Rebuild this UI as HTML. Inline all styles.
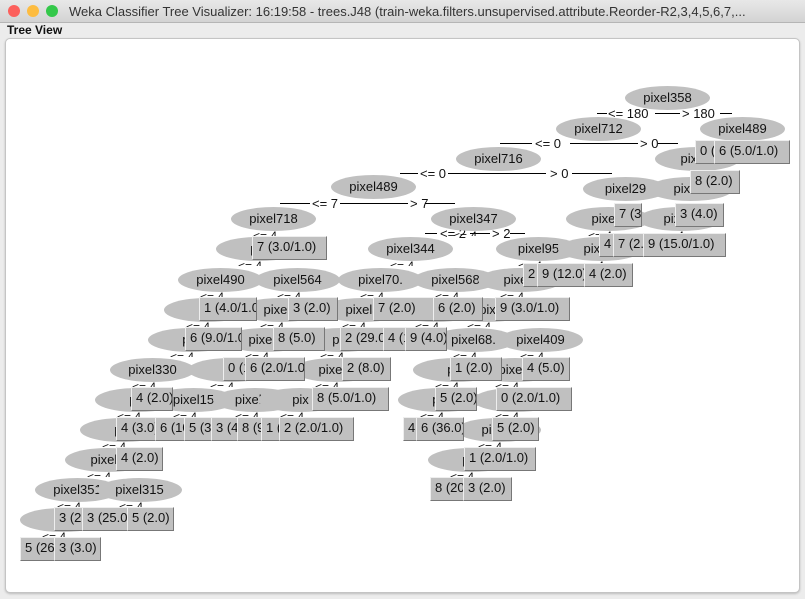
<!DOCTYPE html>
<html><head><meta charset="utf-8">
<style>
body{margin:0;width:805px;height:599px;background:#ececec;font-family:"Liberation Sans","DejaVu Sans",sans-serif;overflow:hidden;position:relative}
#titlebar{position:absolute;left:0;top:0;width:805px;height:22px;background:linear-gradient(#e8e8e8,#d3d3d3);border-bottom:1px solid #b5b5b5}
.dot{position:absolute;top:5px;width:12px;height:12px;border-radius:50%}
#title{position:absolute;left:69px;top:4px;font-size:13px;color:#333;white-space:nowrap}
#tv{position:absolute;left:7px;top:23px;font-size:12px;font-weight:bold;color:#111}
#panel{position:absolute;left:5px;top:38px;width:793px;height:553px;background:#fff;border:1px solid #c4c4c4;border-radius:5px;box-shadow:0 1px 2px #bbb;overflow:hidden}
.el{position:absolute;width:85px;height:24px;border-radius:50%;background:#c0c0c0;font-size:13px;line-height:24px;text-align:center;color:#111}
.lf{position:absolute;height:22px;background:#c0c0c0;border-top:1px solid #eee;border-left:1px solid #eee;border-right:1px solid #777;border-bottom:1px solid #777;font-size:13px;line-height:20px;padding-left:4px;box-sizing:content-box;overflow:hidden;white-space:nowrap;color:#111}
.lb{position:absolute;font-size:13px;color:#111;white-space:nowrap;line-height:13px}
.ln{position:absolute;height:1px;background:#000}
</style></head><body>
<div id="titlebar">
<div class="dot" style="left:8px;background:#fc605c"></div>
<div class="dot" style="left:27px;background:#fdbc40"></div>
<div class="dot" style="left:46px;background:#34c84a"></div>
<div id="title">Weka Classifier Tree Visualizer: 16:19:58 - trees.J48 (train-weka.filters.unsupervised.attribute.Reorder-R2,3,4,5,6,7,...</div>
</div>
<div id="tv">Tree View</div>
<div id="panel"></div>
<script>
const nodes=[
["pixel358",667,98],["pixel712",598,129],["pixel489",742,129],["pixel716",498,159],["pixel6",697,159],
["pixel489",373,187],["pixel29",625,189],["pixel6",690,189],
["pixel718",273,219],["pixel347",473,219],["pixel2",608,219],["pixel4",680,219],
["pix",258,249],["pixel344",410,249],["pixel95",538,249],["pixel2",600,249],
["pixel490",220,280],["pixel564",297,280],["pixel70.",380,280],["pixel568",455,280],["pixel7",520,280],
["pix",206,310],["pixel4",280,310],["pixel5",362,310],["pixel2",435,310],["pix",487,310],
["pix",190,340],["pixel3",265,340],["pix",340,340],["pixel68.",473,340],["pixel409",540,340],
["pixel330",152,370],["pix",230,370],["pixel2",335,370],["pix",455,370],["pixel1",515,370],
["pix",137,400],["pixel15",193,400],["pixel43",255,400],["pix",300,400],["pix",440,400],["pix",515,400],
["pix",122,430],["pixel1",498,430],
["pixel3",107,460],["pix",470,460],
["pixel351",77,490],["pixel315",139,490],
["pix",62,520]
];
const leaves=[
["0 (0.0)",695,140,20],["6 (5.0/1.0)",714,140,74],
["8 (2.0)",690,170,48],
["7 (3.0/1.0)",614,203,26],["3 (4.0)",675,203,47],
["4 (1.0)",599,233,14],["7 (2.0)",613,233,30],["9 (15.0/1.0)",643,233,81],
["7 (3.0/1.0)",252,236,73],
["2 (1.0)",523,263,14],["9 (12.0)",537,263,47],["4 (2.0)",584,263,47],
["1 (4.0/1.0)",199,297,56],["3 (2.0)",288,297,48],["7 (2.0)",373,297,60],["6 (2.0)",433,297,48],["9 (3.0/1.0)",495,297,73],
["6 (9.0/1.0)",185,327,55],["8 (5.0)",273,327,50],["2 (29.0)",340,327,43],["4 (1.0)",383,327,22],["9 (4.0)",405,327,40],
["0 (1.0)",223,357,22],["6 (2.0/1.0)",245,357,58],["2 (8.0)",342,357,47],["1 (2.0)",450,357,50],["4 (5.0)",522,357,46],
["4 (2.0)",131,387,40],["8 (5.0/1.0)",312,387,75],["5 (2.0)",435,387,40],["0 (2.0/1.0)",496,387,74],
["4 (3.0)",116,417,39],["6 (10.0)",155,417,29],["5 (3.0)",184,417,27],["3 (4.0)",211,417,26],["8 (9.0)",237,417,24],["1 (1.0)",261,417,18],["2 (2.0/1.0)",279,417,73],["4 (1.0)",403,417,13],["6 (36.0)",416,417,46],["5 (2.0)",492,417,45],
["4 (2.0)",116,447,45],["1 (2.0/1.0)",464,447,70],
["8 (20.0)",430,477,33],["3 (2.0)",463,477,47],
["3 (2.0)",54,507,28],["3 (25.0)",82,507,45],["5 (2.0)",127,507,45],
["5 (26.0)",20,537,34],["3 (3.0)",54,537,45]
];
const branches=[
["<= 180",608,107],["> 180",682,107],["<= 0",535,137],["> 0",640,137],
["<= 0",420,167],["> 0",550,167],["<= 7",312,197],["> 7",410,197],
["<= 2",440,227],["> 2",492,227]
];
const lines=[
[597,113,10],[655,113,25],[720,113,12],[500,143,32],[570,143,68],[658,143,20],
[400,173,18],[448,173,98],[572,173,40],[280,203,30],[340,203,68],[425,203,30],
[425,233,12],[470,233,20],[510,233,15]
];
const panel=document.getElementById('panel');
const ox=6,oy=39;
branches.forEach(b=>{const d=document.createElement('div');d.className='lb';


d.textContent=b[0];d.style.left=(b[1]-ox)+'px';d.style.top=(b[2]-oy)+'px';panel.appendChild(d);});
lines.forEach(l=>{const d=document.createElement('div');d.className='ln';


d.style.left=(l[0]-ox)+'px';d.style.top=(l[1]-oy)+'px';d.style.width=l[2]+'px';panel.appendChild(d);});
nodes.slice(8).forEach(n=>{const d=document.createElement('div');d.className='lb';


d.style.fontSize='12px';d.style.height='6px';d.style.overflow='hidden';
d.textContent='<= 4';d.style.left=(n[1]-20-ox)+'px';d.style.top=(n[2]+11-oy)+'px';panel.appendChild(d);});
nodes.forEach(n=>{const d=document.createElement('div');d.className='el';


d.textContent=n[0];d.style.left=(n[1]-42-ox)+'px';d.style.top=(n[2]-12-oy)+'px';panel.appendChild(d);});
leaves.forEach(l=>{const d=document.createElement('div');d.className='lf';


d.textContent=l[0];d.style.left=(l[1]-ox)+'px';d.style.top=(l[2]-oy)+'px';d.style.width=(l[3]-4)+'px';panel.appendChild(d);});
</script>
</body></html>
